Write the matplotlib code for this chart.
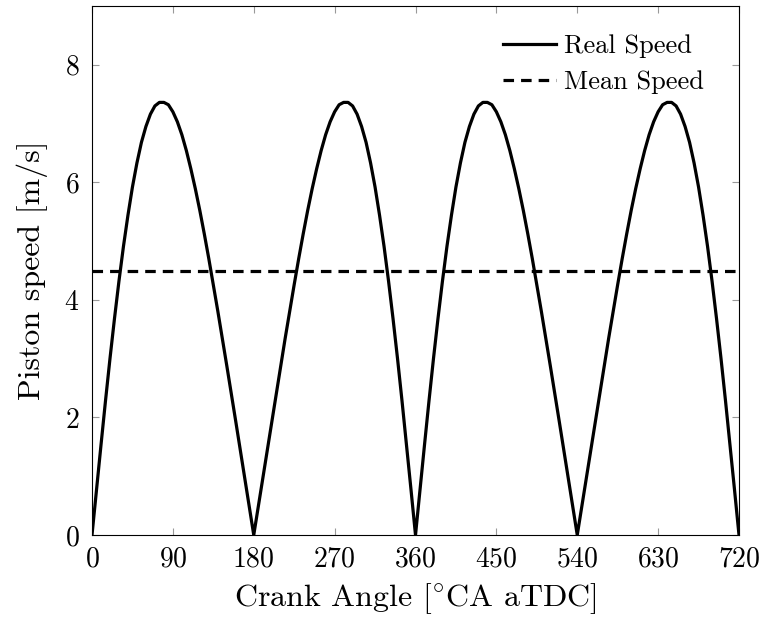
import matplotlib
matplotlib.use('Agg')
import matplotlib.pyplot as plt
import numpy as np

plt.rcParams['font.family'] = ['cmr10', 'DejaVu Serif']
plt.rcParams['mathtext.fontset'] = 'cm'
plt.rcParams['axes.formatter.use_mathtext'] = True

# piston speed, one stroke (0..180 deg, every 5 deg)
stroke_angle = np.arange(0, 185, 5)
stroke_speed = [0.0, 0.77, 1.53, 2.28, 3.00, 3.68, 4.32, 4.91, 5.44, 5.92,
                6.33, 6.68, 6.95, 7.16, 7.30, 7.36, 7.36, 7.32, 7.20, 7.03,
                6.81, 6.54, 6.23, 5.89, 5.52, 5.12, 4.70, 4.26, 3.81, 3.35,
                2.88, 2.41, 1.93, 1.45, 0.97, 0.48, 0.0]
mean_speed = 4.5
xticks = [0, 90, 180, 270, 360, 450, 540, 630, 720]
yticks = [0, 2, 4, 6, 8]

# four strokes: intake/exhaust strokes are mirrored versions of each other
s = np.array(stroke_speed)
angle = np.concatenate([stroke_angle, stroke_angle[1:] + 180,
                        stroke_angle[1:] + 360, stroke_angle[1:] + 540])
speed = np.concatenate([s, s[::-1][1:], s[1:], s[::-1][1:]])

fig = plt.figure(figsize=(7.62, 6.18), dpi=100)
ax = fig.add_axes([92/762, 1-535/618, (739-92)/762, (535-6)/618])

ax.plot(angle, speed, color='black', lw=2.3, label='Real Speed')
ax.axhline(mean_speed, color='black', lw=2.3, ls=(0, (3.3, 2.2)), label='Mean Speed')

ax.set_xlim(0, 720)
ax.set_ylim(0, 9)
ax.set_xticks(xticks)
ax.set_yticks(yticks)
ax.tick_params(direction='in', length=5, width=0.8, color='#999999',
               top=True, right=True, labelsize=20)
ax.tick_params(axis='x', pad=8)
ax.tick_params(axis='y', pad=9)
for sp in ax.spines.values():
    sp.set_linewidth(0.8)

ax.set_xlabel(r'Crank Angle [$^{\circ}$CA aTDC]', fontsize=23, labelpad=6)
ax.set_ylabel('Piston speed [m/s]', fontsize=23, labelpad=12)

ax.legend(loc='upper right', frameon=False, fontsize=19, handlelength=2.0,
          handletextpad=0.3, labelspacing=0.45, borderaxespad=1.0,
          bbox_to_anchor=(1.003, 1.016))

fig.savefig('out.png', dpi=100)
